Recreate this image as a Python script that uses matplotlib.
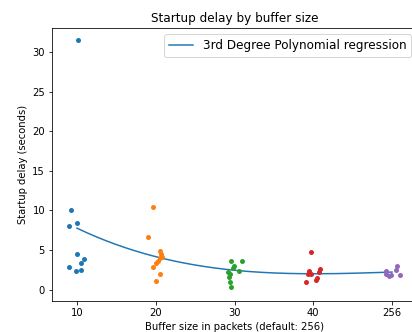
import matplotlib
matplotlib.use("Agg")
import matplotlib.pyplot as plt
import numpy as np

# buffer sizes (categorical, plotted at evenly spaced positions)
buffer_labels = ["10", "20", "30", "40", "256"]
positions = [10, 20, 30, 40, 50]

# startup delays per buffer size (seconds) and strip jitter
delay_10 = [31.5, 10.0, 8.0, 8.4, 4.45, 3.8, 3.33, 2.82, 2.4, 2.44]
jit_10 = [0.09, -0.8, -1.05, 0.04, 0.04, 0.89, 0.51, -0.98, -0.13, 0.55]
delay_20 = [10.38, 6.62, 4.85, 4.47, 4.13, 3.92, 3.62, 3.37, 2.82, 1.9, 1.05]
jit_20 = [-0.31, -0.98, 0.54, 0.7, 0.76, 0.54, 0.32, 0.07, -0.39, 0.58, 0.07]
delay_30 = [3.58, 3.62, 2.95, 2.66, 2.35, 2.23, 1.94, 1.6, 0.89, 0.33]
jit_30 = [-0.48, 0.95, -0.06, -0.15, 0.61, -0.86, -0.57, -0.7, -0.61, -0.48]
delay_40 = [4.72, 2.35, 2.6, 2.19, 2.02, 1.9, 1.47, 1.14, 1.01]
jit_40 = [-0.32, -0.54, 0.9, 0.73, -0.67, -0.29, 0.44, 0.35, -0.92]
delay_256 = [1.94, 1.72, 2.28, 2.99, 2.48, 1.85, 1.81]
jit_256 = [-0.8, -0.42, -0.72, 0.67, 0.55, 0.98, -0.09]

delays = [delay_10, delay_20, delay_30, delay_40, delay_256]
jitters = [jit_10, jit_20, jit_30, jit_40, jit_256]
colors = ["#1f77b4", "#ff7f0e", "#2ca02c", "#d62728", "#9467bd"]

fig = plt.figure(figsize=(412 / 72, 332 / 72), dpi=72)
ax = fig.add_axes([52 / 412, 31 / 332, 365 / 412, 272.7 / 332])

for pos, ys, js, c in zip(positions, delays, jitters, colors):
    xs = pos + np.array(js)
    ax.scatter(xs, ys, s=25, color=c, linewidths=0, zorder=3)

# 3rd degree polynomial fit over all points
all_x = np.concatenate([[p] * len(d) for p, d in zip(positions, delays)])
all_y = np.concatenate(delays)
coef = np.polyfit(all_x, all_y, 3)
xfit = np.linspace(positions[0], positions[-1], 200)
ax.plot(xfit, np.polyval(coef, xfit), color="#1f77b4", lw=1.5,
        label="3rd Degree Polynomial regression")

ax.set_xticks(positions)
ax.set_xticklabels(buffer_labels)
ax.set_xlim(6.83, 53.17)
ax.set_ylim(-1.45, 33.0)
ax.set_title("Startup delay by buffer size")
ax.set_xlabel("Buffer size in packets (default: 256)")
ax.set_ylabel("Startup delay (seconds)")
ax.legend(loc="upper right", fontsize=12)

fig.savefig("out.png", dpi=72)
